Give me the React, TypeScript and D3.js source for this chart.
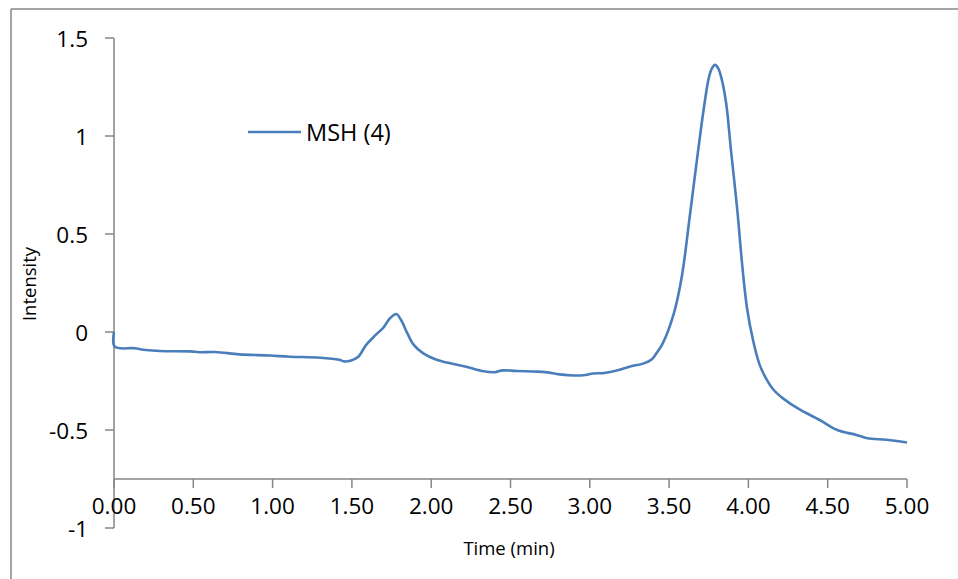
import React from "react";
import * as d3 from "d3";

// retention time (min) and detector intensity
const times = [
  0.0, 0.005, 0.13, 0.2, 0.29, 0.48, 0.54, 0.64, 0.79, 0.98, 1.11, 1.3, 1.42, 1.45, 1.49,
  1.54, 1.59, 1.65, 1.7, 1.74, 1.78, 1.81, 1.85, 1.89, 1.95, 2.03, 2.12, 2.22, 2.33, 2.4,
  2.45, 2.54, 2.67, 2.73, 2.81, 2.9, 2.96, 3.02, 3.09, 3.17, 3.25, 3.34, 3.39, 3.42, 3.46,
  3.53, 3.58, 3.63, 3.67, 3.72, 3.75, 3.77, 3.79, 3.81, 3.83, 3.86, 3.89, 3.93, 3.96, 3.99,
  4.03, 4.07, 4.11, 4.16, 4.22, 4.32, 4.45, 4.56, 4.68, 4.75, 4.87, 5.0,
];
const intensity = [
  0.0, -0.075, -0.083, -0.092, -0.097, -0.099, -0.103, -0.102, -0.114, -0.12, -0.126, -0.131,
  -0.142, -0.15, -0.147, -0.126, -0.066, -0.015, 0.024, 0.07, 0.092, 0.061, -0.007, -0.066,
  -0.109, -0.14, -0.16, -0.177, -0.2, -0.205, -0.196, -0.199, -0.202, -0.206, -0.216,
  -0.222, -0.221, -0.212, -0.209, -0.197, -0.177, -0.16, -0.14, -0.109, -0.058, 0.095, 0.282,
  0.588, 0.843, 1.148, 1.295, 1.345, 1.363, 1.345, 1.295, 1.166, 0.928, 0.622, 0.35, 0.129,
  -0.045, -0.165, -0.235, -0.296, -0.34, -0.394, -0.449, -0.5, -0.525, -0.542, -0.55, -0.564,
];
const xTicks = [0, 0.5, 1, 1.5, 2, 2.5, 3, 3.5, 4, 4.5, 5];
const yTicks = [-1, -0.5, 0, 0.5, 1, 1.5];
const seriesName = "MSH (4)";

const W = 958;
const H = 579;
const axisColor = "#868686";
const lineColor = "#4A7EBB";
const font = "'Open Sans', sans-serif";

export default function App() {
  const x = d3.scaleLinear().domain([0, 5]).range([114, 907]);
  const y = d3.scaleLinear().domain([-1, 1.5]).range([528, 38]);
  const xAxisY = y(-0.75);

  const pts = times.map((t, i) => [t, intensity[i]] as [number, number]);
  const line = d3
    .line<[number, number]>()
    .x((d) => x(d[0]))
    .y((d) => y(d[1]))
    .curve(d3.curveCatmullRom.alpha(0.5));

  return (
    <svg
      width={W}
      height={H}
      style={{ position: "absolute", left: 0, top: 0, background: "#fff" }}
      fontFamily={font}
    >
      {/* chart area border (only top and left visible) */}
      <line x1={11} y1={9} x2={W} y2={9} stroke={axisColor} strokeWidth={1.5} />
      <line x1={11} y1={9} x2={11} y2={H} stroke={axisColor} strokeWidth={1.5} />

      {/* y axis */}
      <line x1={x(0)} y1={y(1.5)} x2={x(0)} y2={y(-1)} stroke={axisColor} strokeWidth={1.5} />
      {yTicks.map((v) => (
        <g key={v}>
          <line x1={x(0) - 9} x2={x(0)} y1={y(v)} y2={y(v)} stroke={axisColor} strokeWidth={1.5} />
          <text x={88} y={y(v)} textAnchor="end" dominantBaseline="central" fontSize={22.5} fill="#000">
            {String(v)}
          </text>
        </g>
      ))}

      {/* x axis */}
      <line x1={x(0)} y1={xAxisY} x2={x(5)} y2={xAxisY} stroke={axisColor} strokeWidth={1.5} />
      {xTicks.map((t) => (
        <g key={t}>
          <line x1={x(t)} x2={x(t)} y1={xAxisY} y2={xAxisY + 9} stroke={axisColor} strokeWidth={1.5} />
          <text x={x(t)} y={514} textAnchor="middle" fontSize={22.5} fill="#000">
            {d3.format(".2f")(t)}
          </text>
        </g>
      ))}

      {/* axis titles */}
      <text
        transform={`translate(36,284) rotate(-90)`}
        textAnchor="middle"
        fontSize={18.5}
        fill="#000"
      >
        Intensity
      </text>
      <text x={509} y={555} textAnchor="middle" fontSize={18.5} fill="#000">
        Time (min)
      </text>

      {/* series */}
      <path d={line(pts) ?? ""} fill="none" stroke={lineColor} strokeWidth={2.6} strokeLinejoin="round" />

      {/* legend */}
      <line x1={248} x2={301} y1={132} y2={132} stroke={lineColor} strokeWidth={2.6} />
      <text x={306} y={132} dominantBaseline="central" fontSize={23.5} fill="#000">
        {seriesName}
      </text>
    </svg>
  );
}
